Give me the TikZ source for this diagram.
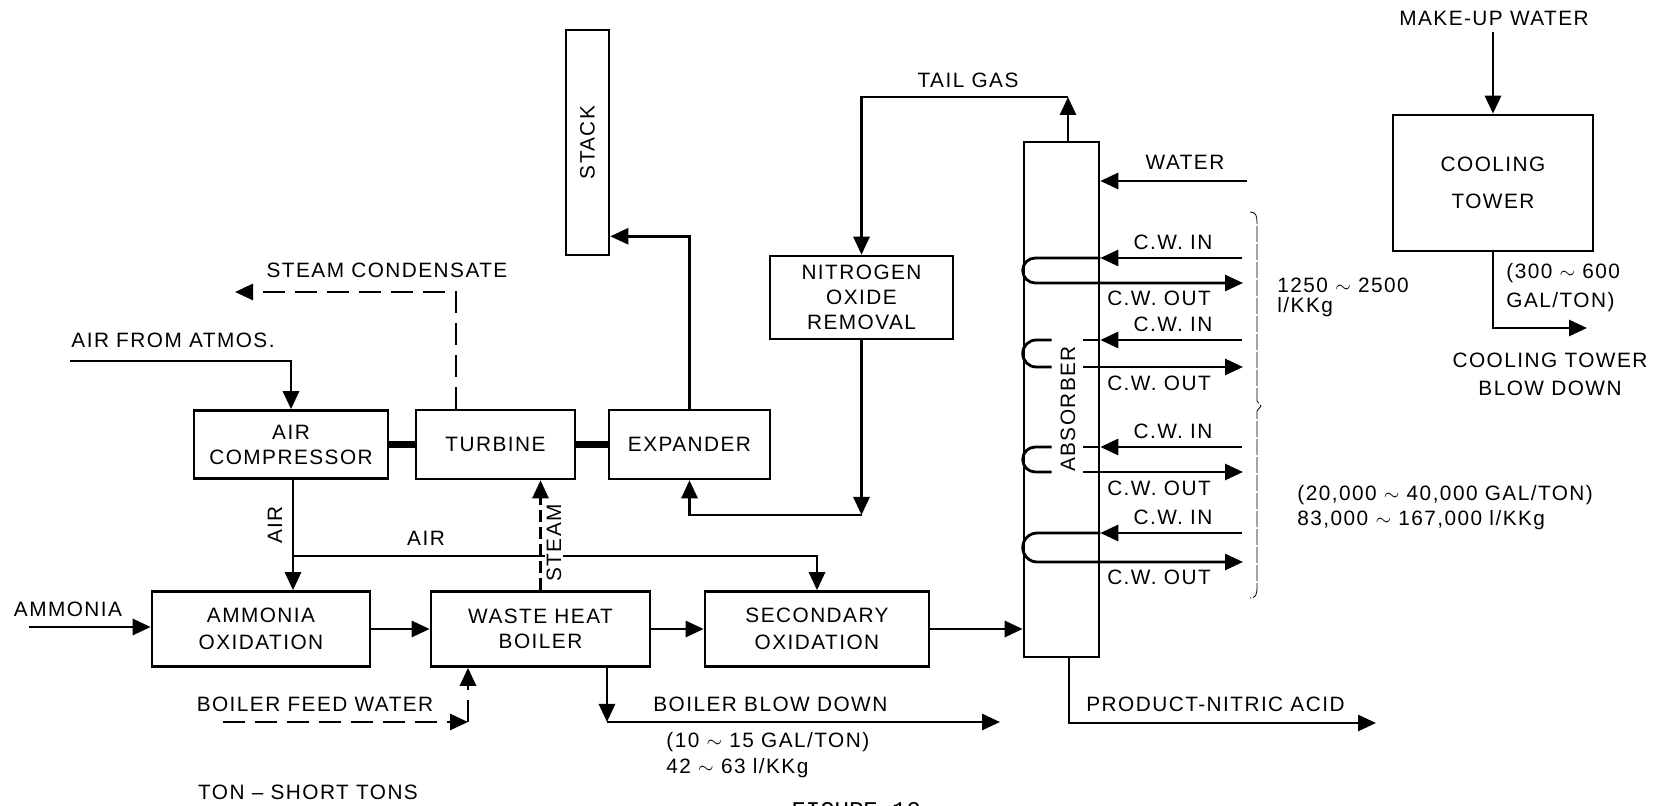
\documentclass[tikz,border=0pt]{standalone}
\usepackage{fontspec}
\setmainfont{Liberation Sans}[LetterSpace=7]
\newfontfamily\figfont{Liberation Mono}
\usetikzlibrary{arrows.meta,calc}

\newcommand{\lblsize}{\fontsize{10.4}{12.5}\selectfont}

\begin{document}
\begin{tikzpicture}[
    x=0.5pt, y=-0.5pt,
    unit/.style={
        draw, line width=1.3pt, align=center,
        font=\lblsize, inner sep=2pt,
    },
    flow/.style={-{Triangle[length=9pt,width=8pt]}, line width=1.4pt},
    pipe/.style={line width=1.4pt},
    dashflow/.style={flow, dash pattern=on 11pt off 5pt},
    steamflow/.style={flow, dash pattern=on 6pt off 2.5pt},
    shaft/.style={line width=3.4pt},
    lbl/.style={font=\lblsize, inner sep=1pt},
    brace/.style={line width=0.4pt, dash pattern=on 8pt off 1pt},
]
\useasboundingbox (0,0) rectangle (1667,806);
\clip (0,0) rectangle (1667,806);

% Process units
\node[unit, minimum width=97pt, minimum height=34pt] (comp) at (291,444.5)
    {AIR\\COMPRESSOR};
\node[unit, minimum width=79.5pt, minimum height=34.5pt] (turb) at (495.5,444.5)
    {TURBINE};
\node[unit, minimum width=80.5pt, minimum height=34.5pt] (exp) at (689.5,444.5)
    {EXPANDER};
\node[unit, minimum width=21.5pt, minimum height=112.5pt] (stack) at (587.5,142.5)
    {\rotatebox{90}{STACK}};
\node[unit, minimum width=91.5pt, minimum height=41.5pt] (nor) at (861.5,297.5)
    {NITROGEN\\OXIDE\\REMOVAL};
\node[unit, minimum width=109pt, minimum height=37.5pt] (ammox) at (261,629)
    {AMMONIA\\[1pt]OXIDATION};
\node[unit, minimum width=109.5pt, minimum height=37.5pt] (whb) at (540.5,629)
    {WASTE HEAT\\BOILER};
\node[unit, minimum width=112pt, minimum height=37.5pt] (secox) at (817,629)
    {SECONDARY\\[1pt]OXIDATION};
\node[unit, minimum width=37.5pt, minimum height=257.5pt] (abs) at (1061.5,399.5) {};
\node[unit, minimum width=100pt, minimum height=68pt] (ct) at (1493,183)
    {COOLING\\[6pt]TOWER};

% Bend points and free ends
\coordinate (atm) at (70,361);
\coordinate (scbend) at (456,292);
\coordinate (scend) at (235,292);
\coordinate (tail) at (1068,97);
\coordinate (noxbend) at (861.5,515);
\coordinate (airsplit) at (293,556);
\coordinate (nh3) at (29,627);
\coordinate (bfw) at (223,722);
\coordinate (bfwbend) at (468,722);
\coordinate (bbdbend) at (607,722);
\coordinate (bbdend) at (1000,722);
\coordinate (prodbend) at (1069,723);
\coordinate (prodend) at (1376,723);
\coordinate (wtr) at (1247,181);
\coordinate (mkup) at (1493,32);
\coordinate (ctend) at (1587,328);

% Air, turbine train and stack
\draw[flow] (atm) -| (comp.north);
\draw[dashflow] (turb.north -| scbend) -- (scbend) -- (scend);
\draw[shaft] (comp.east) -- (turb.west);
\draw[shaft] (turb.east) -- (exp.west);
\draw[flow] (exp.north) |- ([yshift=10pt]stack.south east);

% Tail gas loop
\draw[flow] (abs.north -| tail) -- (tail);
\draw[flow] (tail) -| (nor.north);
\draw[flow] (nor.south) -- (noxbend);
\draw[flow] (noxbend) -| (exp.south);

% Oxidation train
\draw[flow] (comp.south -| airsplit) -- (ammox.north -| airsplit);
\draw[flow] (airsplit) -| (secox.north);
\draw[steamflow] (whb.north) -- (whb.north |- turb.south);
\draw[flow] (nh3) -- (nh3 -| ammox.west);
\draw[flow] (ammox) -- (whb);
\draw[flow] (whb) -- (secox);
\draw[flow] (secox.east) -- (secox.east -| abs.west);

% Boiler water
\draw[dashflow] (bfw) -- (bfwbend);
\draw[dashflow] (bfwbend) -- (bfwbend |- whb.south);
\draw[flow] (whb.south -| bbdbend) -- (bbdbend);
\draw[flow] (bbdbend) -- (bbdend);

% Absorber streams
\draw[flow] (abs.south -| prodbend) |- (prodend);
\draw[flow] (wtr) -- (wtr -| abs.east);

% Cooling water coils (full)
\foreach \yi/\yo in {258/283, 533/562} {
    \pgfmathsetmacro{\rr}{(\yo-\yi)/4}
    \coordinate (cwin) at (1242,\yi);
    \coordinate (cwout) at (1243,\yo);
    \draw[flow] (cwin) -- (cwin -| abs.east);
    \draw[flow] (cwin -| abs.east) -- ([xshift=\rr pt]cwin -| abs.west)
        arc[start angle=90, end angle=270, radius=\rr pt] -- (cwout);
    \node[lbl] (cwinlbl) at (1173,\yi-16) {C.W. IN};
    \node[lbl] (cwoutlbl) at (1159,\yo+15) {C.W. OUT};
}
% Cooling water coils (broken by label)
\foreach \yi/\yo in {340/367, 447/472} {
    \pgfmathsetmacro{\rr}{(\yo-\yi)/4}
    \coordinate (cwin) at (1242,\yi);
    \coordinate (cwout) at (1243,\yo);
    \draw[flow] (cwin) -- (cwin -| abs.east);
    \draw[pipe] (cwin -| abs.east) -- ([xshift=-8.5pt]cwin -| abs.east);
    \draw[flow] ([xshift=-8.5pt]cwout -| abs.east) -- (cwout);
    \draw[pipe] ([xshift=14.5pt]cwin -| abs.west) -- ([xshift=\rr pt]cwin -| abs.west)
        arc[start angle=90, end angle=270, radius=\rr pt]
        -- ([xshift=14.5pt]cwout -| abs.west);
    \node[lbl] (cwinlbl) at (1173,\yi-16) {C.W. IN};
    \node[lbl] (cwoutlbl) at (1159,\yo+16) {C.W. OUT};
}
\draw[brace] (1250,212) .. controls (1256,212) and (1257,216) .. (1257,222)
    -- (1257,401) -- (1261,406) -- (1257,411) -- (1257,588)
    .. controls (1257,594) and (1256,598) .. (1250,598);

% Cooling tower
\draw[flow] (mkup) -- (ct.north);
\draw[flow] (ct.south) |- (ctend);

% Labels
\node[lbl] (sclbl) at (387,270) {STEAM CONDENSATE};
\node[lbl] (atmlbl) at (173,340) {AIR FROM ATMOS.};
\node[lbl, rotate=90] (airlbl) at (275,525) {AIR};
\node[lbl] (airlbl2) at (426,538) {AIR};
\node[lbl, rotate=90, fill=white] (stmlbl) at (554,543) {STEAM};
\node[lbl] (taillbl) at (968,80) {TAIL GAS};
\node[lbl] (wtrlbl) at (1185,162) {WATER};
\node[lbl, rotate=90] (abslbl) at (1068,409) {ABSORBER};
\node[lbl, anchor=west] (cwrate1) at (1275,285) {1250 $\sim$ 2500};
\node[lbl, anchor=west] (cwrate2) at (1275,307) {l/KKg};
\node[lbl, anchor=west] (cwrate3) at (1295,495) {(20,000 $\sim$ 40,000 GAL/TON)};
\node[lbl, anchor=west] (cwrate4) at (1295,520) {83,000 $\sim$ 167,000 l/KKg};
\node[lbl] (mkuplbl) at (1494,18) {MAKE-UP WATER};
\node[lbl, anchor=west] (ctrate1) at (1504,273) {(300 $\sim$ 600};
\node[lbl, anchor=west] (ctrate2) at (1504,302) {GAL/TON)};
\node[lbl, align=center] (ctbdlbl) at (1550,374) {COOLING TOWER\\[1.5pt]BLOW DOWN};
\node[lbl] (nh3lbl) at (68,609) {AMMONIA};
\node[lbl] (bfwlbl) at (315,704) {BOILER FEED WATER};
\node[lbl, anchor=west] (bbdlbl) at (651,704) {BOILER BLOW DOWN};
\node[lbl, anchor=west] (bbdrate1) at (664,742) {(10 $\sim$ 15 GAL/TON)};
\node[lbl, anchor=west] (bbdrate2) at (664,768) {42 $\sim$ 63 l/KKg};
\node[lbl, anchor=west] (prodlbl) at (1084,704) {PRODUCT-NITRIC ACID};
\node[lbl] (tonlbl) at (308,792) {TON -- SHORT TONS};
\node[font=\figfont\fontsize{12}{12}\selectfont, anchor=north west, inner sep=0pt]
    (figlbl) at (791,802) {FIGURE 10};

\end{tikzpicture}
\end{document}
